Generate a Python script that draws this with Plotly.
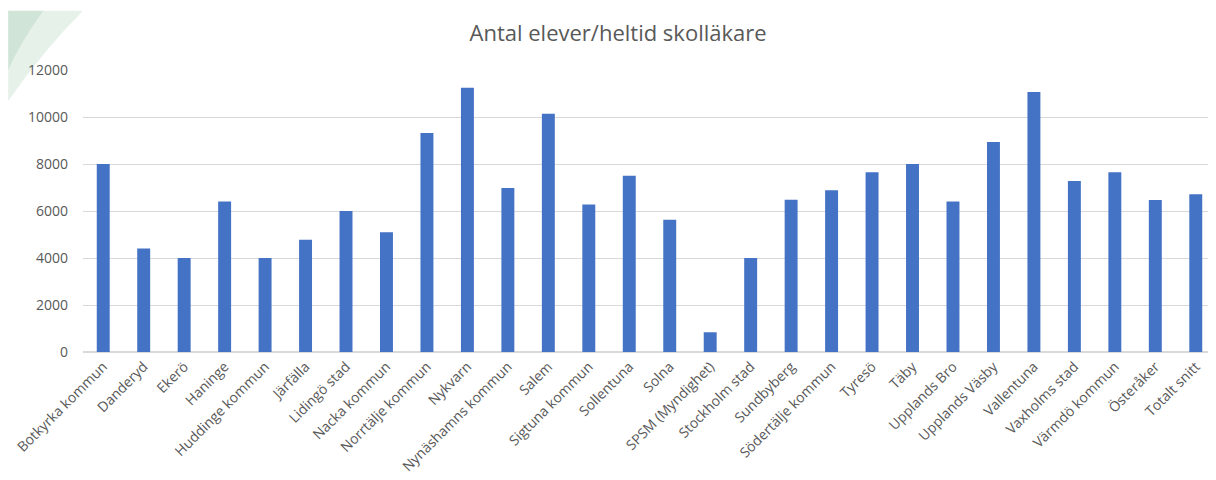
import plotly.graph_objects as go

kommuner = [
    "Botkyrka kommun", "Danderyd", "Ekerö", "Haninge", "Huddinge kommun",
    "Järfälla", "Lidingö stad", "Nacka kommun", "Norrtälje kommun", "Nykvarn",
    "Nynäshamns kommun", "Salem", "Sigtuna kommun", "Sollentuna", "Solna",
    "SPSM (Myndighet)", "Stockholm stad", "Sundbyberg", "Södertälje kommun",
    "Tyresö", "Täby", "Upplands Bro", "Upplands Väsby", "Vallentuna",
    "Vaxholms stad", "Värmdö kommun", "Österåker", "Totalt snitt",
]
elever_per_lakare = [
    8000, 4400, 4000, 6400, 4000,
    4780, 6000, 5100, 9320, 11250,
    6980, 10140, 6280, 7500, 5630,
    840, 4000, 6480, 6880,
    7650, 8000, 6400, 8940, 11060,
    7280, 7650, 6470, 6710,
]
y_ticks = [0, 2000, 4000, 6000, 8000, 10000, 12000]

BLUE = "#4472C4"
GREY_TEXT = "#595959"
GRID = "#D9D9D9"
FONT = "Open Sans"

fig = go.Figure()

fig.add_trace(
    go.Bar(
        x=kommuner,
        y=elever_per_lakare,
        marker=dict(color=BLUE, line=dict(width=0)),
        name="Antal elever/heltid skolläkare",
    )
)

# ljusgrön dekoration uppe till vänster (från bildspelsmallen)
fig.add_shape(
    type="path",
    path="M -0.066,1.21 L 0.0,1.21 Q -0.035,1.07 -0.066,0.89 Z",
    xref="paper", yref="paper",
    fillcolor="rgba(190,220,200,0.40)",
    line=dict(width=0),
    layer="below",
)
fig.add_shape(
    type="path",
    path="M -0.066,1.21 L -0.035,1.21 Q -0.055,1.10 -0.066,1.0 Z",
    xref="paper", yref="paper",
    fillcolor="rgba(160,200,175,0.30)",
    line=dict(width=0),
    layer="below",
)

fig.update_layout(
    width=1208,
    height=472,
    margin=dict(l=75, r=0, t=62, b=128, autoexpand=False),
    paper_bgcolor="white",
    plot_bgcolor="white",
    bargap=0.68,
    showlegend=False,
    font=dict(family=FONT, color=GREY_TEXT, size=12),
    title=dict(
        text="Antal elever/heltid skolläkare",
        x=0.505, xref="container", xanchor="center",
        y=0.947, yref="container", yanchor="middle",
        font=dict(family=FONT, size=22, color=GREY_TEXT),
    ),
)

fig.update_xaxes(
    tickangle=-45,
    tickfont=dict(family=FONT, size=14, color=GREY_TEXT),
    showline=True,
    linecolor=GRID,
    linewidth=1,
    ticks="",
    showgrid=False,
    automargin=False,
)

fig.update_yaxes(
    range=[0, 12000],
    tickvals=y_ticks,
    ticktext=[str(v) for v in y_ticks],
    tickfont=dict(family=FONT, size=14, color=GREY_TEXT),
    showgrid=True,
    gridcolor=GRID,
    gridwidth=1,
    zeroline=True,
    zerolinecolor=GRID,
    ticks="",
    ticklabelstandoff=14,
    automargin=False,
)

fig.write_html("out.html")
